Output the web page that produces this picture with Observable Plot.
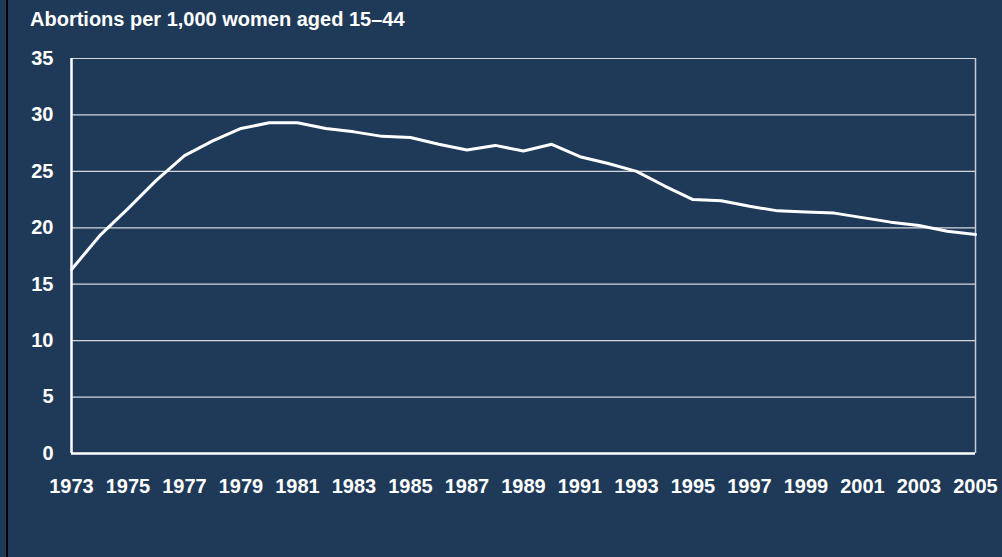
<!DOCTYPE html>
<html>
<head>
<meta charset="utf-8">
<script src="https://cdn.jsdelivr.net/npm/d3@7"></script>
<script src="https://cdn.jsdelivr.net/npm/@observablehq/plot@0.6"></script>
<style>
  html, body { margin: 0; padding: 0; background: #1f3a58; }
  #wrap { position: relative; width: 1002px; height: 557px; background: #1f3a58; overflow: hidden; }
  #edge { position: absolute; left: 6px; top: 0; width: 2px; height: 557px; background: #000; }
  #title { position: absolute; left: 30px; top: 8px; font: bold 20px "Liberation Sans", Arial, sans-serif; color: #ffffff; white-space: nowrap; }
  #chart { position: absolute; left: 0; top: 0; }
</style>
</head>
<body>
<div id="wrap">
  <div id="chart"></div>
  <div id="edge"></div>
  <div id="title">Abortions per 1,000 women aged 15–44</div>
</div>
<script>
const years = d3.range(1973, 2006);
const rates = [16.3, 19.3, 21.7, 24.2, 26.4, 27.7, 28.8, 29.3, 29.3, 28.8, 28.5, 28.1, 28.0, 27.4, 26.9, 27.3, 26.8, 27.4, 26.3, 25.7, 25.0, 23.7, 22.5, 22.4, 21.9, 21.5, 21.4, 21.3, 20.9, 20.5, 20.2, 19.7, 19.4];
const xTicks = d3.range(1973, 2006, 2);
const yTicks = [0, 5, 10, 15, 20, 25, 30, 35];
const gridLines = [5, 10, 15, 20, 25, 30, 35];

const data = years.map((y, i) => ({year: y, rate: rates[i]}));

const chart = Plot.plot({
  width: 1002,
  height: 557,
  marginLeft: 71,
  marginRight: 27,
  marginTop: 58,
  marginBottom: 104,
  style: {
    background: "transparent",
    color: "#ffffff",
    fontFamily: "'Liberation Sans', Arial, sans-serif",
    fontWeight: "bold",
    fontSize: "20px"
  },
  x: {domain: [1973, 2005], ticks: xTicks, tickFormat: "d", tickSize: 0, tickPadding: 25, label: null},
  y: {domain: [0, 35], ticks: yTicks, tickSize: 0, tickPadding: 18, label: null},
  marks: [
    Plot.ruleY(gridLines, {stroke: "#d4d8dd", strokeWidth: 1.2}),
    Plot.ruleX([2005], {stroke: "#c8ccd2", strokeWidth: 1.5}),
    Plot.ruleX([1973], {stroke: "#ffffff", strokeWidth: 2.5}),
    Plot.ruleY([0], {stroke: "#ffffff", strokeWidth: 2.5}),
    Plot.line(data, {x: "year", y: "rate", stroke: "#ffffff", strokeWidth: 3, strokeLinejoin: "round"})
  ]
});
document.getElementById("chart").appendChild(chart);
</script>
</body>
</html>
